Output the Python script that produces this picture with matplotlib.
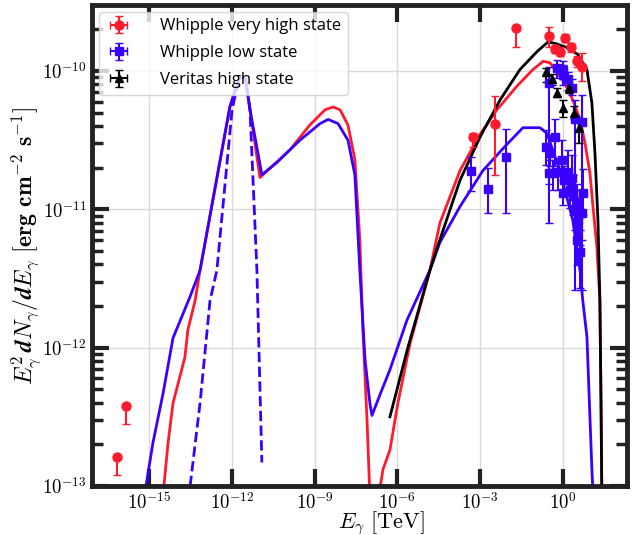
import numpy as np
import matplotlib
matplotlib.use("Agg")
import matplotlib.pyplot as plt
from matplotlib.ticker import LogLocator, NullLocator, FixedLocator, FuncFormatter

plt.rcParams['mathtext.fontset'] = 'cm'

# model curves as log10(E/TeV), log10(flux)
red_logE = [-14.46, -14.31, -14.13, -13.70, -13.59, -13.33, -13.15, -12.07, -11.75, -11.63,
            -11.50, -11.34, -10.98, -9.89, -9.17, -8.62, -8.33, -8.08, -7.79, -7.54, -7.36,
            -7.25, -7.10, -6.99, -6.70, -6.52, -6.27, -5.98, -5.54, -4.82, -4.46, -3.73,
            -3.01, -2.39, -1.67, -1.09, -0.72, -0.47, -0.29, 0.07, 0.36, 0.62, 0.80, 0.98,
            1.09, 1.23, 1.34, 1.38, 1.41]
red_logF = [-13.0, -12.69, -12.40, -12.07, -11.87, -11.66, -11.44, -10.26, -10.06, -10.04,
            -10.06, -10.28, -10.77, -10.57, -10.39, -10.28, -10.26, -10.28, -10.39, -10.64, -11.22,
            -11.87, -12.52, -13.10, -13.10, -12.88, -12.74, -12.40, -11.97, -11.44, -11.10, -10.72,
            -10.46, -10.28, -10.11, -9.99, -9.93, -9.94, -9.99, -10.09, -10.21, -10.35, -10.52,
            -10.74, -10.98, -11.27, -11.66, -12.38, -13.05]

blue_logE = [-15.11, -14.86, -14.49, -14.13, -13.51, -13.15, -12.07, -11.75, -11.63, -11.50,
             -11.34, -10.91, -10.36, -9.53, -8.80, -8.51, -8.15, -7.79, -7.54, -7.36, -7.17,
             -6.99, -6.92, -6.63, -6.27, -5.65, -4.82, -4.46, -3.73, -2.90, -2.03, -1.45,
             -0.83, -0.58, -0.11, 0.36, 0.62, 0.72, 0.87, 1.05, 1.09]
blue_logF = [-13.0, -12.69, -12.33, -11.93, -11.63, -11.44, -10.26, -10.06, -10.04, -10.06,
             -10.28, -10.75, -10.66, -10.50, -10.38, -10.35, -10.38, -10.50, -10.75, -11.44, -12.09,
             -12.41, -12.49, -12.34, -12.16, -11.80, -11.44, -11.24, -10.98, -10.72, -10.53, -10.41,
             -10.41, -10.45, -10.72, -11.08, -11.44, -11.66, -11.92, -12.88, -13.05]

dash_logE = [-13.51, -13.15, -12.79, -12.54, -11.99, -11.75, -11.63, -11.50, -11.34, -11.09, -10.91]
dash_logF = [-13.0, -12.40, -11.66, -11.44, -10.28, -10.06, -10.04, -10.06, -10.28, -11.44, -12.83]

black_logE = [-6.27, -5.62, -4.82, -4.46, -3.73, -3.01, -2.28, -1.56, -0.94, -0.54, -0.29,
              0.14, 0.54, 0.87, 1.05, 1.16, 1.27, 1.34, 1.38, 1.41]
black_logF = [-12.50, -12.0, -11.44, -11.22, -10.79, -10.48, -10.21, -9.99, -9.86, -9.79, -9.80,
              -9.83, -9.88, -9.99, -10.23, -10.59, -11.08, -11.66, -12.38, -13.05]

# measurements: log10 E, log10 flux, log10 lower end, log10 upper end
vhs_logE = [-16.16, -15.83, -3.26, -2.46, -1.70, -0.51, -0.29, -0.11, 0.07, 0.29, 0.51, 0.69]
vhs_logF = [-12.79, -12.42, -10.48, -10.38, -9.69, -9.75, -9.84, -9.86, -9.76, -9.83, -9.93, -9.97]
vhs_lo = [-12.92, -12.55, -10.55, -10.75, -9.83, -9.83, -9.87, -9.89, -9.79, -9.86, -9.97, -10.07]
vhs_hi = [-12.79, -12.42, -10.45, -10.18, -9.69, -9.68, -9.81, -9.83, -9.73, -9.80, -9.89, -9.87]

low_logE = [-3.33, -2.72, -2.07, -0.51, -0.62, -0.47, -0.29, -0.51, -0.18, -0.22, 0.0, 0.0,
            0.18, 0.33, -0.04, 0.04, 0.0, 0.18, 0.33, 0.36, 0.43, 0.69, 0.72, 0.51, 0.62, 0.69,
            0.51, 0.62, 0.25, 0.43, 0.54, -0.36]
low_logF = [-10.72, -10.85, -10.62, -10.09, -10.55, -10.59, -10.48, -10.74, -10.73, -9.98, -9.99,
            -10.03, -10.06, -10.12, -10.64, -10.79, -10.88, -10.73, -10.77, -10.88, -10.35, -10.37,
            -10.88, -10.95, -11.03, -11.03, -11.22, -11.31, -10.86, -11.00, -11.08, -10.74]
low_lo = [-10.87, -11.03, -11.03, -11.10, -10.68, -10.69, -10.69, -10.82, -10.86, -10.05, -10.06,
          -10.10, -10.14, -10.17, -10.75, -10.90, -10.97, -10.90, -10.93, -11.04, -11.58, -11.58,
          -11.04, -11.11, -11.26, -11.22, -11.40, -11.57, -10.99, -11.15, -11.26, -10.86]
low_hi = [-10.62, -10.70, -10.42, -9.97, -10.43, -10.46, -10.35, -10.64, -10.63, -9.92, -9.93,
          -9.96, -10.01, -10.06, -10.50, -10.69, -10.79, -10.57, -10.61, -10.75, -10.21, -10.17,
          -10.71, -10.82, -10.86, -10.90, -11.08, -11.15, -10.75, -10.86, -10.93, -10.64]

ver_logE = [-0.62, -0.40, -0.22, 0.0, 0.22, 0.40, 0.58]
ver_logF = [-10.01, -10.06, -10.16, -10.27, -10.12, -10.30, -10.41]
ver_lo = [-10.08, -10.10, -10.19, -10.33, -10.16, -10.35, -10.52]
ver_hi = [-9.98, -10.02, -10.12, -10.21, -10.08, -10.25, -10.37]

RED = '#ff1a2e'
BLUE = '#3a00ff'


def pts(logE, logF, lo, hi):
    e = 10 ** np.array(logE)
    f = 10 ** np.array(logF)
    yerr = [f - 10 ** np.array(lo), 10 ** np.array(hi) - f]
    return e, f, yerr


fig = plt.figure(figsize=(6.36, 5.35), dpi=100)
ax = fig.add_axes([0.1447, 0.0916, 0.841, 0.899])

ax.plot(10 ** np.array(red_logE), 10 ** np.array(red_logF), color=RED, lw=2.0)
ax.plot(10 ** np.array(blue_logE), 10 ** np.array(blue_logF), color=BLUE, lw=2.0)
ax.plot(10 ** np.array(dash_logE), 10 ** np.array(dash_logF), color=BLUE, lw=2.0, ls='--')
ax.plot(10 ** np.array(black_logE), 10 ** np.array(black_logF), color='black', lw=2.0)

e, f, yerr = pts(vhs_logE, vhs_logF, vhs_lo, vhs_hi)
ax.errorbar(e, f, yerr=yerr, xerr=np.zeros(len(e)), fmt='o', color=RED, ms=6.5,
            elinewidth=1.5, capsize=3, label='Whipple very high state')
e, f, yerr = pts(low_logE, low_logF, low_lo, low_hi)
ax.errorbar(e, f, yerr=yerr, xerr=np.zeros(len(e)), fmt='s', color=BLUE, ms=5.5,
            elinewidth=1.5, capsize=3, label='Whipple low state')
e, f, yerr = pts(ver_logE, ver_logF, ver_lo, ver_hi)
ax.errorbar(e, f, yerr=yerr, xerr=np.zeros(len(e)), fmt='^', color='black', ms=5.5,
            elinewidth=1.5, capsize=3, label='Veritas high state')

ax.set_xscale('log')
ax.set_yscale('log')
ax.set_xlim(10 ** -17.065, 10 ** 2.319)
ax.set_ylim(1e-13, 10 ** -9.523)

pow_fmt = FuncFormatter(lambda v, p: r'$10^{%d}$' % int(round(np.log10(v))))
ax.xaxis.set_major_locator(FixedLocator([1e-15, 1e-12, 1e-9, 1e-6, 1e-3, 1e0]))
ax.xaxis.set_minor_locator(NullLocator())
ax.xaxis.set_major_formatter(pow_fmt)
ax.yaxis.set_major_locator(FixedLocator([1e-13, 1e-12, 1e-11, 1e-10]))
ax.yaxis.set_minor_locator(LogLocator(base=10, subs=np.arange(2, 10)))
ax.yaxis.set_major_formatter(pow_fmt)
ax.yaxis.set_minor_formatter(FuncFormatter(lambda v, p: ''))

ax.grid(True, which='major', color='#d9d9d9', lw=1.0)
ax.set_axisbelow(True)
for s in ax.spines.values():
    s.set_linewidth(3.5)
    s.set_color('#222222')
ax.tick_params(which='both', direction='in', top=True, right=True, color='#222222')
ax.tick_params(which='major', length=12, width=3, labelsize=13.5, pad=4)
ax.tick_params(which='minor', length=8, width=2.5)

ax.set_xlabel(r'$E_\gamma\ [\mathrm{TeV}]$', fontsize=16)
ax.xaxis.set_label_coords(0.54, -0.048)
ax.set_ylabel(r'$\boldsymbol{E_\gamma^2\, dN_\gamma/dE_\gamma}\ [\mathbf{erg\ cm^{-2}\ s^{-1}}]$',
              fontsize=17)
ax.yaxis.set_label_coords(-0.092, 0.5)

leg = ax.legend(loc='upper left', prop={'family': 'Open Sans', 'size': 12},
                frameon=True, fancybox=True, framealpha=0.8, edgecolor='#cccccc',
                borderaxespad=0.4, handlelength=1.6, handletextpad=1.7, labelspacing=0.65)

fig.savefig('out.png', dpi=100)
